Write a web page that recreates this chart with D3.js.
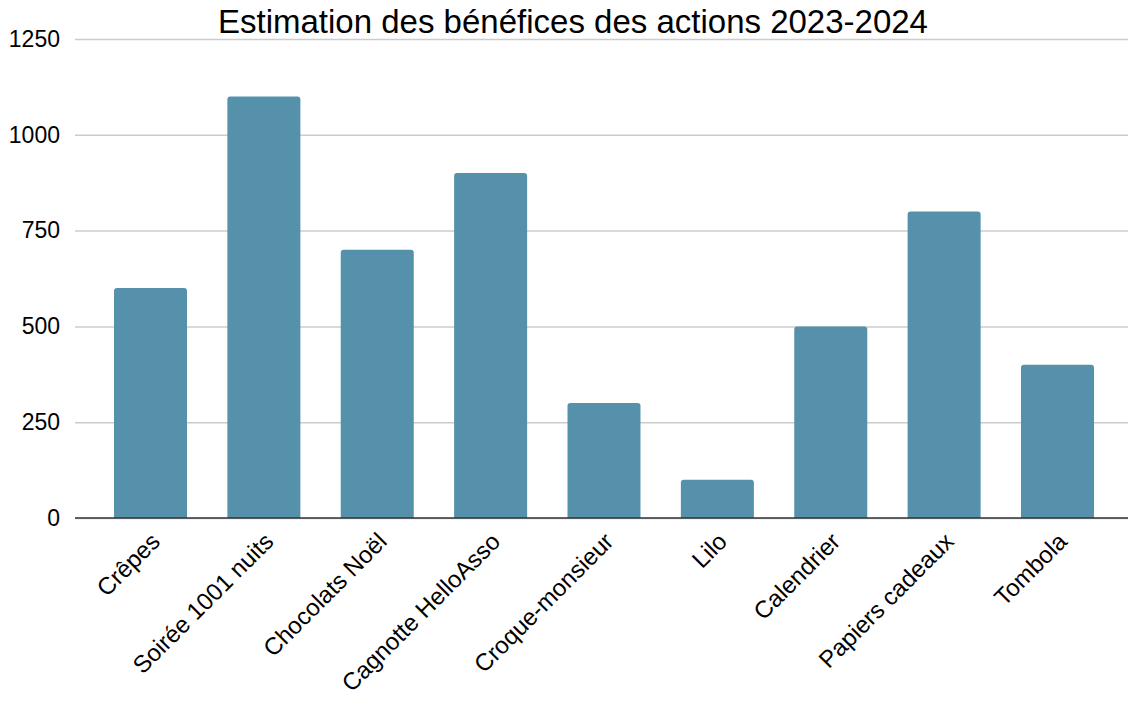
<!DOCTYPE html>
<html>
<head>
<meta charset="utf-8">
<script src="https://cdn.jsdelivr.net/npm/d3@7"></script>
<style>
  body { margin: 0; background: #fff; }
  svg { display: block; font-family: "Liberation Sans", Arial, sans-serif; }
</style>
</head>
<body>
<svg id="chart"></svg>
<script>
const categories = ['Crêpes', 'Soirée 1001 nuits', 'Chocolats Noël', 'Cagnotte HelloAsso',
  'Croque-monsieur', 'Lilo', 'Calendrier', 'Papiers cadeaux', 'Tombola'];
const benefices = [600, 1100, 700, 900, 300, 100, 500, 800, 400];
const yTicks = [0, 250, 500, 750, 1000, 1250];
const title = 'Estimation des bénéfices des actions 2023-2024';

const W = 1128, H = 724;
const m = { top: 39, right: 0, bottom: 206, left: 75 };

const svg = d3.select('#chart').attr('width', W).attr('height', H);

// bars run from the first bar's left edge to the last bar's right edge
const x = d3.scaleBand().domain(categories)
  .range([114, 1094]).paddingInner(0.356).paddingOuter(0);
const y = d3.scaleLinear().domain([0, 1250]).range([H - m.bottom, m.top]);

svg.append('text')
  .attr('x', 573).attr('y', 33)
  .attr('text-anchor', 'middle')
  .style('font-size', '33px').attr('fill', '#000')
  .text(title);

// grid + y labels
const yAxis = svg.append('g').attr('transform', `translate(${m.left},0)`)
  .call(d3.axisLeft(y).tickValues(yTicks).tickFormat(d3.format('d'))
    .tickSize(-(W - m.left - m.right)).tickPadding(15));
yAxis.select('.domain').remove();
yAxis.selectAll('.tick line').attr('stroke', '#cccccc').attr('stroke-width', 1.5);
yAxis.selectAll('.tick text').style('font-size', '23px').attr('fill', '#000');

const r = 3;
svg.append('g').selectAll('path').data(benefices).enter().append('path')
  .attr('fill', '#5691ab')
  .attr('d', (d, i) => {
    const x0 = x(categories[i]), w = x.bandwidth();
    const y0 = y(d), y1 = y(0);
    return `M${x0},${y1}V${y0 + r}Q${x0},${y0} ${x0 + r},${y0}H${x0 + w - r}` +
      `Q${x0 + w},${y0} ${x0 + w},${y0 + r}V${y1}Z`;
  });

// baseline + category labels
const xAxis = svg.append('g').attr('transform', `translate(0,${y(0)})`)
  .call(d3.axisBottom(x).tickSize(0).tickPadding(0));
xAxis.select('.domain').attr('d', `M${m.left},0H${W}`).attr('stroke', '#333').attr('stroke-width', 1.5);
xAxis.selectAll('.tick text')
  .style('font-size', '24px').attr('fill', '#000')
  .attr('text-anchor', 'end')
  .attr('dy', null).attr('y', 0)
  .attr('transform', 'translate(11,25) rotate(-45)');
</script>
</body>
</html>
